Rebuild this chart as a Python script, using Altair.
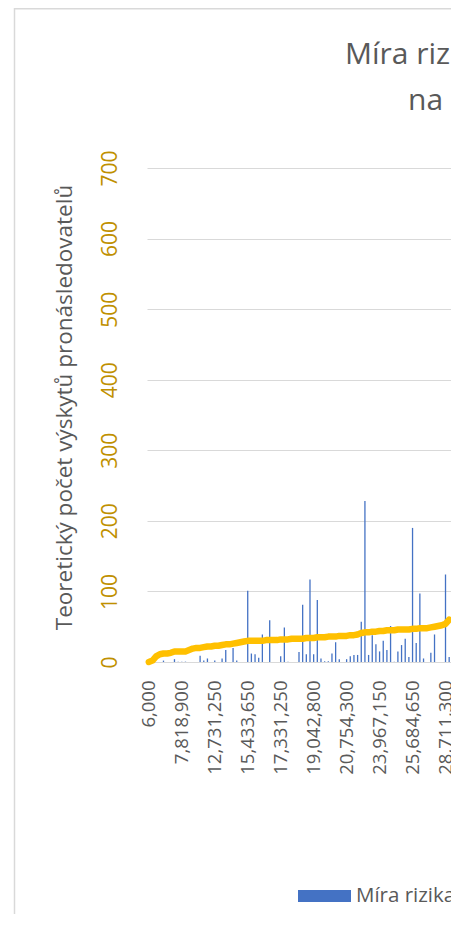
import altair as alt
import pandas as pd

FONT = "Open Sans"

# x-axis labels shown every 9th category
x_labels = ["6,000", "7,818,900", "12,731,250", "15,433,650", "17,331,250",
            "19,042,800", "20,754,300", "23,967,150", "25,684,650", "28,711,300"]
label_every = 9

# bar series (Míra rizika), one value per category
risk = [0, 0, 0, 0, 2, 0, 0, 4, 0.5, 0.5,
        0.5, 0, 0, 0, 9, 2, 5, 0, 2, 0,
        5, 17, 0, 20, 2, 0, 0, 101, 12, 11,
        6, 39, 0, 59, 0, 0, 8, 49, 0.5, 0,
        0, 14, 81, 11, 117, 11, 88, 5, 1, 1,
        12, 28, 4, 0, 4, 8, 10, 10, 57, 228,
        10, 38, 25, 15, 30, 17, 51, 0.5, 15, 24,
        33, 7, 190, 27, 97, 5, 0, 13, 39, 0,
        0, 124, 7]

# line series (theoretical count of pursuers)
pursuers = [0, 2, 8, 11, 12, 12, 13, 15, 15, 15,
            15, 17, 19, 20, 20, 21, 22, 22, 23, 23,
            24, 25, 25, 26, 27, 28, 29, 30, 30, 30,
            30, 30, 31, 31, 31, 31, 32, 32, 32, 33,
            33, 33, 33, 34, 34, 34, 35, 35, 35, 36,
            36, 36, 37, 37, 37, 38, 38, 39, 41, 42,
            42, 43, 43, 44, 44, 45, 45, 45, 46, 46,
            46, 46, 47, 47, 48, 48, 48, 49, 50, 51,
            52, 54, 60]

y_ticks = [0, 100, 200, 300, 400, 500, 600, 700]
y_title = "Teoretický počet  výskytů pronásledovatelů"
title_lines = ["Míra rizika", "na"]
legend_labels = ["Míra rizika"]

n = len(risk)
bars_df = pd.DataFrame({"i": list(range(n)), "value": risk})
line_df = pd.DataFrame({"i": list(range(n)), "value": pursuers})

label_expr = "[" + ",".join("'%s'" % s for s in x_labels) + "][datum.value / %d]" % label_every

x_enc = alt.X(
    "i:O",
    scale=alt.Scale(paddingInner=0, paddingOuter=0),
    axis=alt.Axis(
        values=list(range(0, n, label_every)),
        labelExpr=label_expr,
        labelAngle=270,
        labelAlign="right",
        labelBaseline="middle",
        labelPadding=18,
        ticks=False,
        tickSize=0,
        domain=False,
        grid=False,
        title=None,
        labelColor="#595959",
        labelFontSize=18.5,
        labelFont=FONT,
    ),
)

y_enc = alt.Y(
    "value:Q",
    scale=alt.Scale(domain=[0, 700], nice=False),
    axis=alt.Axis(
        values=y_ticks,
        ticks=False,
        tickSize=0,
        domain=False,
        grid=True,
        gridColor="#D9D9D9",
        gridWidth=1.2,
        labelAngle=270,
        labelAlign="center",
        labelBaseline="middle",
        labelPadding=37,
        labelColor="#BF9000",
        labelFontSize=21,
        labelFont=FONT,
        title=y_title,
        titleAngle=270,
        titleX=-83,
        titleY=239,
        titleAlign="center",
        titleBaseline="middle",
        titleFontSize=22.5,
        titleFontWeight="normal",
        titleColor="#595959",
        titleFont=FONT,
    ),
)

bars = alt.Chart(bars_df).mark_bar(color="#4472C4", size=1.3).encode(x=x_enc, y=y_enc)
line = alt.Chart(line_df).mark_line(
    color="#FFC000", strokeWidth=6.5, strokeJoin="round", strokeCap="round"
).encode(x=x_enc, y=y_enc)

t1 = alt.Chart(pd.DataFrame({"t": [title_lines[0]]})).mark_text(
    align="left", baseline="alphabetic", font=FONT, fontSize=30, color="#595959"
).encode(text="t:N", x=alt.value(198), y=alt.value(-104))
t2 = alt.Chart(pd.DataFrame({"t": [title_lines[1]]})).mark_text(
    align="left", baseline="alphabetic", font=FONT, fontSize=30, color="#595959"
).encode(text="t:N", x=alt.value(261), y=alt.value(-58))

leg_df = pd.DataFrame({"t": legend_labels})
leg_rect = alt.Chart(leg_df).mark_rect(color="#4472C4").encode(
    x=alt.value(151), x2=alt.value(204), y=alt.value(722), y2=alt.value(734)
)
leg_text = alt.Chart(leg_df).mark_text(
    align="left", baseline="middle", font=FONT, fontSize=20.5, color="#595959"
).encode(text="t:N", x=alt.value(209), y=alt.value(728))

one = pd.DataFrame({"k": [0]})
border_left = alt.Chart(one).mark_rule(color="#D9D9D9", strokeWidth=1.5).encode(
    x=alt.value(-132.5), y=alt.value(-160), y2=alt.value(760)
)
border_top = alt.Chart(one).mark_rule(color="#D9D9D9", strokeWidth=2).encode(
    x=alt.value(-133), x2=alt.value(320), y=alt.value(-159.5)
)

chart = alt.layer(
    border_left, border_top, bars, line, t1, t2, leg_rect, leg_text
).properties(
    width=304,
    height=494,
    autosize="none",
    padding={"left": 139, "top": 160, "right": 0, "bottom": 252},
    background="white",
).configure_view(stroke=None)

chart.save("out.html", embed_options={"renderer": "svg", "actions": False})
